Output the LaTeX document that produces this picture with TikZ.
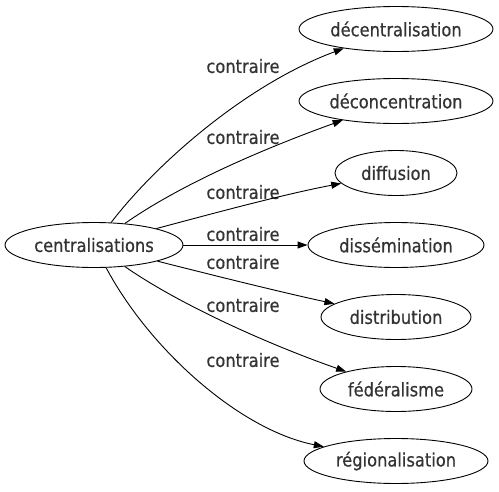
\documentclass[tikz,border=0pt]{standalone}
\usepackage{fontspec}
\setmainfont{DejaVu Sans}[FakeStretch=0.88, FakeBold=0.6]
\usetikzlibrary{arrows.meta, shapes.geometric}
\tikzset{
  word/.style={ellipse, draw, text=black!80, inner xsep=0pt, inner ysep=0pt, minimum height=45pt, font=\fontsize{18.5}{22}\selectfont},
  rel/.style={inner sep=0pt, text=black!80, font=\fontsize{18.5}{22}\selectfont}
}

\begin{document}
\begin{tikzpicture}[x=1pt, y=-1pt, line width=0.9pt, >={Triangle[length=10pt, width=7pt]}]
        \useasboundingbox (0,0) rectangle (499,491);

        % Nodes
        \node[word, minimum width=178pt] (C) at (94, 245) {centralisations};
        \node[word, minimum width=194pt] (dec) at (396, 29) {décentralisation};
        \node[word, minimum width=194pt] (deco) at (396, 101) {déconcentration};
        \node[word, minimum width=122pt] (dif) at (396, 173) {diffusion};
        \node[word, minimum width=176pt] (dis) at (396, 245) {dissémination};
        \node[word, minimum width=150pt] (dist) at (396, 317) {distribution};
        \node[word, minimum width=152pt] (fed) at (396, 389) {fédéralisme};
        \node[word, minimum width=184pt] (reg) at (396, 461) {régionalisation};

        % Edge labels
        \node[rel] (l1) at (243, 66) {contraire};
        \node[rel] (l2) at (243, 137) {contraire};
        \node[rel] (l3) at (243, 192) {contraire};
        \node[rel] (l4) at (243, 234) {contraire};
        \node[rel] (l5) at (243, 262) {contraire};
        \node[rel] (l6) at (243, 305) {contraire};
        \node[rel] (l7) at (243, 360) {contraire};

        % Directed edges
        \draw[->] (C) .. controls (155, 165) and (245, 85) .. (dec);
        \draw[->] (C) .. controls (180, 185) and (260, 150) .. (deco);
        \draw[->] (C) .. controls (200, 217) and (280, 195) .. (dif);
        \draw[->] (C) -- (dis);
        \draw[->] (C) .. controls (200, 272) and (280, 292) .. (dist);
        \draw[->] (C) .. controls (180, 305) and (270, 345) .. (fed);
        \draw[->] (C) .. controls (150, 350) and (240, 430) .. (reg);
\end{tikzpicture}
\end{document}
